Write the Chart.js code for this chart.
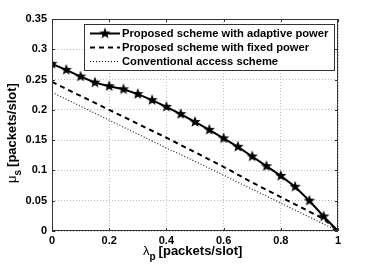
<!DOCTYPE html>
<html>
<head>
<meta charset="utf-8">
<script src="https://cdn.jsdelivr.net/npm/chart.js@4"></script>
<style>
  html, body { margin: 0; padding: 0; background: #fff; }
  #wrap { width: 374px; height: 268px; }
</style>
</head>
<body>
<div id="wrap"><canvas id="chart" width="374" height="268"></canvas></div>
<script>
// Data
const lambdaAdaptive = [0, 0.05, 0.1, 0.15, 0.2, 0.25, 0.3, 0.35, 0.4, 0.45, 0.5, 0.55, 0.6, 0.65, 0.7, 0.75, 0.8, 0.85, 0.9, 0.95, 1];
const muAdaptive = [0.276, 0.266, 0.255, 0.245, 0.239, 0.234, 0.226, 0.216, 0.205, 0.193, 0.180, 0.167, 0.153, 0.139, 0.123, 0.107, 0.091, 0.073, 0.050, 0.024, 0];
const lambdaFixed = [0, 0.1, 0.2, 0.3, 0.4, 0.5, 0.6, 0.7, 0.8, 0.9, 0.95, 1];
const muFixed = [0.246, 0.223, 0.200, 0.177, 0.154, 0.130, 0.106, 0.080, 0.056, 0.032, 0.020, 0];
const lambdaConv = [0, 0.1, 0.2, 0.3, 0.4, 0.5, 0.6, 0.7, 0.8, 0.9, 1];
const muConv = [0.229, 0.206, 0.183, 0.160, 0.137, 0.115, 0.092, 0.069, 0.046, 0.023, 0];
const seriesNames = ['Proposed scheme with adaptive power', 'Proposed scheme with fixed power', 'Conventional access scheme'];
const xTicks = [0, 0.2, 0.4, 0.6, 0.8, 1];
const yTicks = [0, 0.05, 0.1, 0.15, 0.2, 0.25, 0.3, 0.35];

const FONT = '"Liberation Sans", Arial, Helvetica, sans-serif';

// filled five-point star marker
const makeStar = (r) => {
    const c = document.createElement('canvas');
    c.width = c.height = r * 2 + 2;
    const g = c.getContext('2d');
    g.translate(r + 1, r + 1);
    g.beginPath();
    for (let i = 0; i < 10; i++) {
        const rad = i % 2 === 0 ? r : r * 0.42;
        const a = -Math.PI / 2 + i * Math.PI / 5;
        g.lineTo(rad * Math.cos(a), rad * Math.sin(a));
    }
    g.closePath();
    g.fillStyle = '#000';
    g.fill();
    return c;
};
const star = makeStar(6);

const toPoints = (xs, ys) => xs.map((x, i) => ({ x: x, y: ys[i] }));

// frame, inward ticks, axis titles and legend box
const decorations = {
    id: 'decorations',
    afterDraw(chart) {
        const ctx = chart.ctx;
        const a = chart.chartArea;
        const sx = chart.scales.x, sy = chart.scales.y;
        ctx.save();
        ctx.strokeStyle = '#333';
        ctx.lineWidth = 1;
        ctx.setLineDash([]);
        ctx.strokeRect(a.left + 0.5, a.top + 0.5, a.right - a.left - 1, a.bottom - a.top - 1);
        ctx.beginPath();
        xTicks.forEach(v => {
            const px = Math.round(sx.getPixelForValue(v)) + 0.5;
            ctx.moveTo(px, a.bottom); ctx.lineTo(px, a.bottom - 3);
            ctx.moveTo(px, a.top); ctx.lineTo(px, a.top + 3);
        });
        yTicks.forEach(v => {
            const py = Math.round(sy.getPixelForValue(v)) + 0.5;
            ctx.moveTo(a.left, py); ctx.lineTo(a.left + 3, py);
            ctx.moveTo(a.right, py); ctx.lineTo(a.right - 3, py);
        });
        ctx.stroke();

        // x title
        ctx.fillStyle = '#000';
        ctx.textBaseline = 'alphabetic';
        ctx.textAlign = 'left';
        let x0 = 143;
        ctx.font = '13px ' + FONT;
        ctx.fillText('λ', x0, 255);
        x0 += ctx.measureText('λ').width;
        ctx.font = 'bold 10px ' + FONT;
        ctx.fillText('p', x0, 260);
        x0 += ctx.measureText('p').width + 3;
        ctx.font = 'bold 13px ' + FONT;
        ctx.fillText('[packets/slot]', x0, 255);

        // y title
        ctx.save();
        ctx.translate(16, 183);
        ctx.rotate(-Math.PI / 2);
        let y0 = 0;
        ctx.font = '13px ' + FONT;
        ctx.fillText('μ', y0, 0);
        y0 += ctx.measureText('μ').width;
        ctx.font = 'bold 10px ' + FONT;
        ctx.fillText('s', y0, 5);
        y0 += ctx.measureText('s').width + 3;
        ctx.font = 'bold 13px ' + FONT;
        ctx.fillText('[packets/slot]', y0, 0);
        ctx.restore();

        // legend
        const lx = 84, ly = 24, lw = 250, lh = 46;
        ctx.fillStyle = '#fff';
        ctx.fillRect(lx, ly, lw, lh);
        ctx.strokeStyle = '#333';
        ctx.lineWidth = 1;
        ctx.strokeRect(lx + 0.5, ly + 0.5, lw, lh);
        const rows = [33.5, 47.5, 61.5];
        const styles = [
            { dash: [], width: 2 },
            { dash: [5, 4], width: 2 },
            { dash: [1, 2], width: 1.2 }
        ];
        rows.forEach((ry, i) => {
            ctx.beginPath();
            ctx.setLineDash(styles[i].dash);
            ctx.lineWidth = styles[i].width;
            ctx.strokeStyle = '#000';
            ctx.moveTo(90, ry);
            ctx.lineTo(120, ry);
            ctx.stroke();
            ctx.setLineDash([]);
            if (i === 0) ctx.drawImage(star, 105 - star.width / 2, ry - star.height / 2);
            ctx.fillStyle = '#000';
            ctx.font = 'bold 11.2px ' + FONT;
            ctx.textBaseline = 'middle';
            ctx.fillText(seriesNames[i], 122, ry + 0.5);
        });
        ctx.restore();
    }
};

new Chart(document.getElementById('chart'), {
    type: 'scatter',
    data: {
        datasets: [
            {
                label: seriesNames[0],
                data: toPoints(lambdaAdaptive, muAdaptive),
                showLine: true,
                borderColor: '#000',
                borderWidth: 2,
                pointStyle: star,
                pointRadius: 6,
                pointBackgroundColor: '#000'
            },
            {
                label: seriesNames[1],
                data: toPoints(lambdaFixed, muFixed),
                showLine: true,
                borderColor: '#000',
                borderWidth: 2,
                borderDash: [5, 4],
                pointRadius: 0
            },
            {
                label: seriesNames[2],
                data: toPoints(lambdaConv, muConv),
                showLine: true,
                borderColor: '#222',
                borderWidth: 1.2,
                borderDash: [1, 2],
                pointRadius: 0
            }
        ]
    },
    options: {
        responsive: false,
        animation: false,
        layout: { padding: { top: 19, right: 36, left: 0, bottom: 0 } },
        plugins: {
            legend: { display: false },
            tooltip: { enabled: false }
        },
        scales: {
            x: {
                type: 'linear',
                min: 0,
                max: 1,
                afterFit: s => { s.height = 37; },
                afterBuildTicks: s => { s.ticks = xTicks.map(v => ({ value: v })); },
                grid: { color: '#bbb', lineWidth: 1, drawTicks: false },
                border: { display: false, dash: [1, 2] },
                ticks: {
                    color: '#000',
                    padding: 3,
                    font: { family: FONT, size: 11, weight: 'bold' },
                    callback: v => String(v)
                }
            },
            y: {
                min: 0,
                max: 0.35,
                afterFit: s => { s.width = 52; },
                afterBuildTicks: s => { s.ticks = yTicks.map(v => ({ value: v })); },
                grid: { color: '#bbb', lineWidth: 1, drawTicks: false },
                border: { display: false, dash: [1, 2] },
                ticks: {
                    color: '#000',
                    padding: 5,
                    font: { family: FONT, size: 11, weight: 'bold' },
                    callback: v => String(v)
                }
            }
        }
    },
    plugins: [decorations]
});
</script>
</body>
</html>
